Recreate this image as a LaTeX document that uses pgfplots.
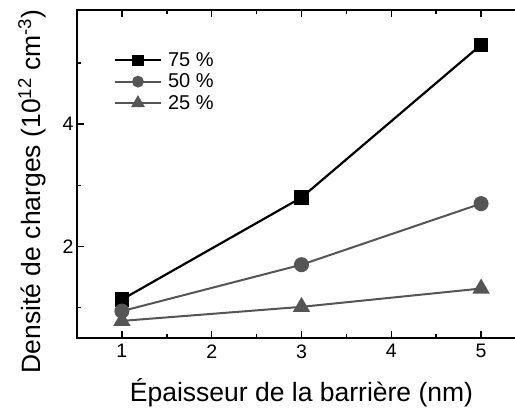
\documentclass[border=0pt]{standalone}
\usepackage{fontspec}
\setmainfont{Liberation Sans}
\usepackage{pgfplots}
\pgfplotsset{compat=1.18}
\definecolor{dg}{RGB}{85,85,85}
\begin{document}
\begin{tikzpicture}
\begin{axis}[
 scale only axis, width=449bp, height=328bp,
 xmin=0.5, xmax=5.5, ymin=0.5, ymax=5.87,
 xtick={1,2,3,4,5}, minor xtick={1.5,2.5,3.5,4.5},
 ytick={2,4}, minor ytick={1,3,5},
 tick align=inside, major tick length=7bp, minor tick length=4bp,
 every tick/.style={line width=1.5bp, black},
 axis line style={line width=1.6bp},
 ticklabel style={font=\fontsize{19.5bp}{22bp}\selectfont},
 xticklabel style={yshift=-3bp},
 /pgf/number format/assume math mode=true,
 xlabel={Épaisseur de la barrière (nm)},
 ylabel={Densité de charges (10\textsuperscript{12} cm\textsuperscript{-3})},
 label style={font=\fontsize{26.5bp}{30bp}\selectfont},
 xlabel style={at={(axis description cs:0.5,-0.195)}, anchor=base},
 ylabel style={at={(axis description cs:-0.0824,0.447)}, anchor=base},
 legend style={draw=none, fill=none, at={(axis description cs:0.075,0.883)}, anchor=north west,
   font=\fontsize{20bp}{23bp}\selectfont, row sep=2bp,
   /tikz/every odd column/.append style={column sep=4bp}},
 legend cell align=left,
 legend image code/.code={\draw[mark repeat=2,mark phase=2, mark size=0.75*\pgfplotmarksize] plot coordinates {(0bp,0bp) (23bp,0bp) (46bp,0bp)};},
]
\addplot[black, line width=2.2bp, mark=square*, mark size=6bp, mark options={solid}] coordinates {(1,1.13) (3,2.80) (5,5.30)};
\addlegendentry{75 \%}
\addplot[dg, line width=2bp, mark=*, mark size=6.5bp, mark options={solid}] coordinates {(1,0.94) (3,1.70) (5,2.70)};
\addlegendentry{50 \%}
\addplot[dg, line width=2bp, mark=triangle*, mark size=8bp, mark options={solid}] coordinates {(1,0.78) (3,1.01) (5,1.31)};
\addlegendentry{25 \%}
\end{axis}
\pgfresetboundingbox
\path[use as bounding box] ([shift={(-77bp,-71bp)}]current axis.south west) rectangle ([shift={(-11bp,10bp)}]current axis.north east);
\end{tikzpicture}
\end{document}
